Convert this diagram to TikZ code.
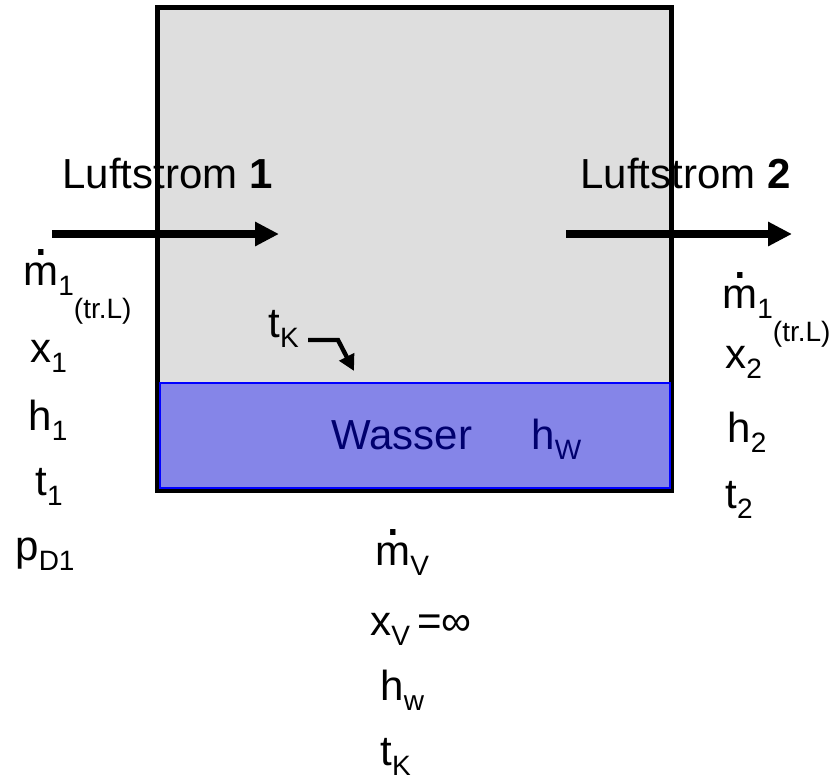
\documentclass[tikz,border=0pt]{standalone}
\usepackage{fontspec}
\setmainfont{Liberation Sans}
\usetikzlibrary{arrows.meta}
\definecolor{kammergrau}{RGB}{222,222,222}
\definecolor{wasserblau}{RGB}{133,133,232}
\definecolor{wassertext}{RGB}{0,0,110}
\newcommand{\gross}{\fontsize{21}{25}\selectfont}
\newcommand{\ind}[1]{\raisebox{-5pt}{\fontsize{14}{16}\selectfont #1}}
\newcommand{\indtief}[1]{\raisebox{-16.5pt}{\fontsize{14}{16}\selectfont #1}}
\newcommand{\mpunkt}{\ooalign{m\cr\hidewidth\raisebox{15pt}{\fontsize{28}{28}\selectfont .}\hidewidth\cr}}

\begin{document}
\begin{tikzpicture}[x=0.5pt,y=-0.5pt,
  txt/.style={anchor=base west,inner sep=0pt,font=\gross},
  strom/.style={line width=4pt,-{Triangle[length=12pt,width=11.5pt]}}]
  \useasboundingbox (0,0) rectangle (832,778);
  \draw[line width=2.5pt,fill=kammergrau] (157.5,7.5) rectangle (671.5,490.5);
  \draw[line width=1pt,draw=blue,fill=wasserblau] (159.5,382.5) rectangle (670,487.5);
  \node[txt,text=wassertext] (wasser) at (331,449) {Wasser};
  \node[txt,text=wassertext] (hW) at (531,449) {h\ind{W}};

  \node[txt] (luft1) at (62,188) {Luftstrom \textbf{1}};
  \node[txt] (luft2) at (580,188) {Luftstrom \textbf{2}};
  \coordinate (ein1) at (52,234);
  \coordinate (ein2) at (279,234);
  \coordinate (aus1) at (566,234);
  \coordinate (aus2) at (792,234);
  \draw[strom] (ein1) -- (ein2);
  \draw[strom] (aus1) -- (aus2);

  \node[txt] (tK) at (268,337) {t\ind{K}};
  \coordinate (k1) at (308,340);
  \coordinate (k2) at (338,340);
  \coordinate (k3) at (354,371);
  \draw[line width=2.2pt,-{Triangle[length=8pt,width=8pt]}] (k1) -- (k2) -- (k3);

  \node[txt] (m1) at (23,285) {\mpunkt\ind{1}\indtief{(tr.L)}};
  \node[txt] (x1) at (30,362) {x\ind{1}};
  \node[txt] (h1) at (28,430) {h\ind{1}};
  \node[txt] (t1) at (35,495) {t\ind{1}};
  \node[txt] (pD1) at (15,560) {p\ind{D1}};

  \node[txt] (m2) at (722,308) {\mpunkt\ind{1}\indtief{(tr.L)}};
  \node[txt] (x2) at (725,368) {x\ind{2}};
  \node[txt] (h2) at (727,442) {h\ind{2}};
  \node[txt] (t2) at (725,508) {t\ind{2}};

  \node[txt] (mV) at (375,565) {\mpunkt\ind{V}};
  \node[txt] (xV) at (370,635) {x\ind{V}\,=∞};
  \node[txt] (hw) at (380,700) {h\ind{w}};
  \node[txt] (tK2) at (380,765) {t\ind{K}};
\end{tikzpicture}
\end{document}
